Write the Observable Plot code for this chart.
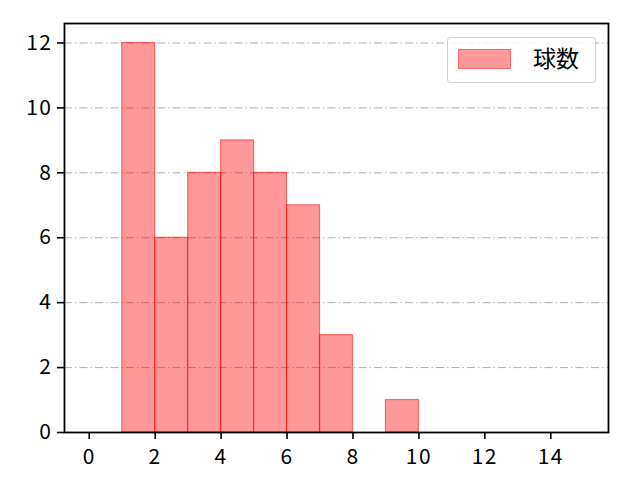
<!DOCTYPE html>
<html><head><meta charset="utf-8">
<script src="https://cdn.jsdelivr.net/npm/d3@7"></script>
<script src="https://cdn.jsdelivr.net/npm/@observablehq/plot@0.6"></script>
<style>body{margin:0;background:#fff}</style>
</head><body><div id="chart"></div>
<script>
const binStart = [1, 2, 3, 4, 5, 6, 7, 9];
const binEnd   = [2, 3, 4, 5, 6, 7, 8, 10];
const counts   = [12, 6, 8, 9, 8, 7, 3, 1];
const xTicks = [0, 2, 4, 6, 8, 10, 12, 14];
const yTicks = [0, 2, 4, 6, 8, 10, 12];
const seriesName = "球数";

const data = binStart.map((s, i) => ({x1: s, x2: binEnd[i], y: counts[i]}));
const font = "'Noto Sans CJK JP', 'DejaVu Sans', sans-serif";

const plot = Plot.plot({
  width: 640, height: 480,
  marginLeft: 64, marginRight: 32, marginTop: 23, marginBottom: 48,
  style: {fontFamily: font, fontSize: "21px", color: "#000", background: "#fff"},
  x: {domain: [-0.75, 15.75], label: null},
  y: {domain: [0, 12.6], label: null},
  marks: [
    Plot.gridY(yTicks, {stroke: "#b0b0b0", strokeOpacity: 1, strokeWidth: 1, strokeDasharray: "8,3,1.5,3"}),
    Plot.rect(data, {x1: "x1", x2: "x2", y1: 0, y2: "y", fill: "#ff0000", fillOpacity: 0.4, stroke: "#ff0000", strokeOpacity: 0.5, strokeWidth: 1.2}),
    Plot.axisX({ticks: xTicks, tickSize: 7, tickPadding: 10, fontSize: 21, stroke: "#000", strokeWidth: 1.6}),
    Plot.axisY({ticks: yTicks, tickSize: 7, tickPadding: 5, fontSize: 21, stroke: "#000", strokeWidth: 1.6}),
    Plot.frame({stroke: "#000", strokeWidth: 1.8})
  ]
});
document.getElementById("chart").appendChild(plot);

const svg = d3.select(plot);
svg.selectAll("text").style("font-size", "21px").style("font-family", font)
  .style("fill", "#000").style("letter-spacing", "1.5px");

// legend
const g = svg.append("g");
g.append("rect").attr("x", 447.5).attr("y", 37.5).attr("width", 148).attr("height", 45)
  .attr("rx", 3).attr("fill", "#fff").attr("fill-opacity", 0.8).attr("stroke", "#d0d0d0");
g.append("rect").attr("x", 458.5).attr("y", 49.5).attr("width", 52).attr("height", 19)
  .attr("fill", "#ff0000").attr("fill-opacity", 0.4).attr("stroke", "#ff0000").attr("stroke-opacity", 0.5);
g.append("text").attr("x", 533).attr("y", 59).attr("dy", "0.35em").attr("text-anchor", "start")
  .style("font-family", font).style("font-size", "23px").attr("fill", "#000").text(seriesName);
</script></body></html>
